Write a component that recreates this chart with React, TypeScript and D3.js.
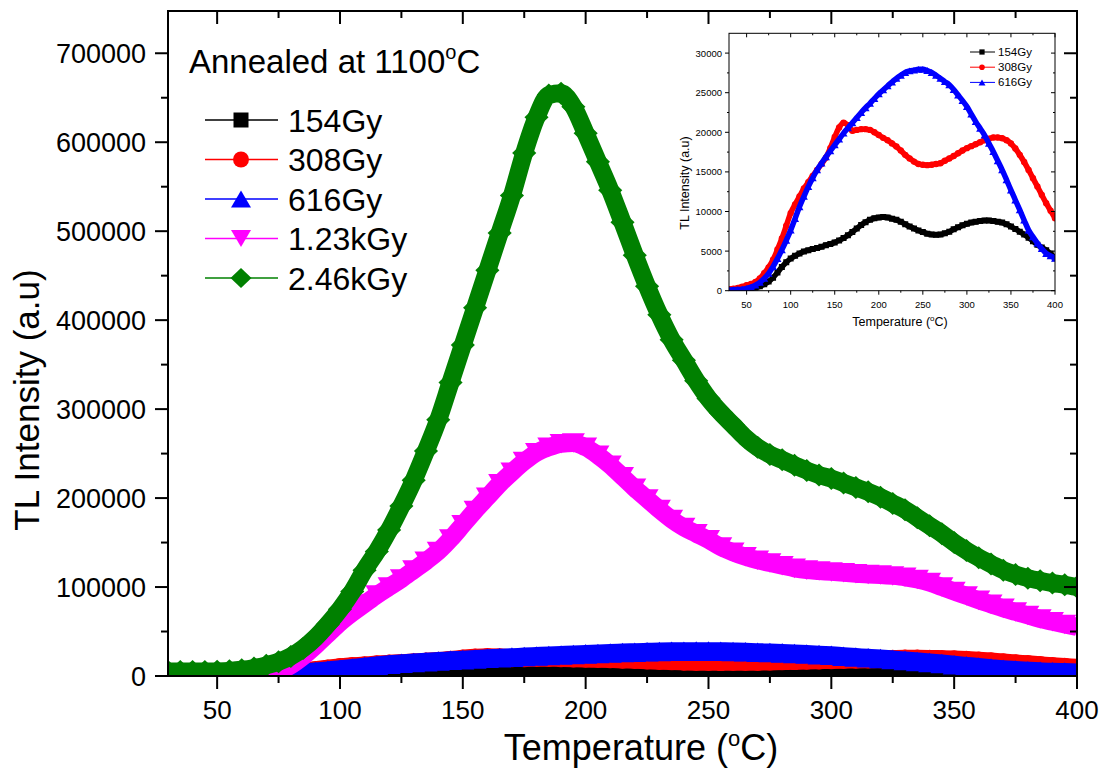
import React from "react";
import * as d3 from "d3";

// ---------- data ----------
const temps = [
  30, 35, 40, 45, 50, 55, 60, 65, 70, 75, 80, 85, 90, 95, 100, 105, 110, 115, 120, 125,
  130, 135, 140, 145, 150, 155, 160, 165, 170, 175, 180, 185, 190, 195, 200, 205, 210, 215, 220, 225,
  230, 235, 240, 245, 250, 255, 260, 265, 270, 275, 280, 285, 290, 295, 300, 305, 310, 315, 320, 325,
  330, 335, 340, 345, 350, 355, 360, 365, 370, 375, 380, 385, 390, 395, 400,
];

const gy154 = [
  100, 120, 150, 180, 220, 280, 380, 550, 800, 1150, 1650, 2300, 3000, 3600, 4050, 4400, 4700, 4950, 5100, 5250,
  5400, 5550, 5750, 5900, 6100, 6350, 6650, 7000, 7400, 7850, 8300, 8650, 8950, 9150, 9250, 9300, 9250, 9100, 8950, 8700,
  8400, 8100, 7850, 7600, 7400, 7200, 7100, 7050, 7100, 7250, 7450, 7750, 8000, 8250, 8450, 8600, 8700, 8800, 8850, 8850,
  8800, 8700, 8600, 8400, 8100, 7800, 7450, 7100, 6700, 6250, 5800, 5450, 5100, 4650, 4100,
];

const gy308 = [
  200, 250, 350, 500, 700, 850, 1100, 1550, 2200, 2950, 3900, 5200, 6600, 8200, 9800, 10900, 11900, 12900, 13700, 14500,
  15250, 16000, 16800, 18000, 19400, 20600, 21200, 20900, 20200, 20300, 20400, 20400, 20300, 20000, 19650, 19300, 19000, 18600, 18200, 17700,
  17150, 16700, 16300, 16000, 15900, 15850, 15900, 16000, 16100, 16400, 16700, 17000, 17350, 17700, 18000, 18250, 18500, 18750, 19000, 19200,
  19350, 19350, 19250, 19000, 18600, 17950, 17150, 16250, 15250, 14200, 13150, 12100, 11050, 10100, 9150,
];

const gy616 = [
  100, 120, 150, 200, 300, 450, 700, 1050, 1550, 2200, 3050, 4050, 5150, 6350, 7650, 9100, 10600, 11900, 13150, 14250,
  15250, 16100, 16900, 17650, 18400, 19150, 19900, 20550, 21200, 21850, 22500, 23100, 23650, 24250, 24850, 25350, 25850, 26350, 26800, 27200,
  27550, 27750, 27850, 27950, 27950, 27800, 27550, 27200, 26800, 26400, 26000, 25400, 24700, 24000, 23250, 22300, 21350, 20500, 19650, 18600,
  17550, 16400, 15250, 14000, 12700, 11450, 10200, 8900, 7650, 6800, 6000, 5300, 4700, 4400, 4100,
];

const kgy123 = [
  0, 0, 0, 0, 0, 200, 500, 1000, 2000, 5000, 12000, 22000, 34000, 47000, 60000, 71000, 81000, 91000, 100000, 109000,
  119000, 129000, 140000, 154000, 170000, 186000, 201000, 216000, 229000, 241000, 251000, 257000, 261000, 262000, 257000, 248000, 237000, 224000, 211000, 199000,
  187000, 176000, 167000, 160000, 153000, 145000, 139000, 134000, 130000, 127000, 124000, 121000, 119000, 118000, 117000, 116000, 115000, 114000, 113500, 112500,
  111000, 108500, 105000, 100000, 95000, 90000, 85000, 80500, 76000, 72000, 68000, 64000, 61000, 58000, 55000,
];

const kgy246 = [
  5000, 5000, 5000, 5000, 5200, 5800, 7000, 9000, 12000, 16000, 22000, 31000, 43000, 58000, 75000, 95000, 119000, 140000, 164000, 191000,
  220000, 253000, 288000, 330000, 372000, 414000, 456000, 498000, 540000, 588000, 628000, 653000, 655000, 640000, 610000, 578000, 546000, 510000, 473000, 438000,
  406000, 378000, 355000, 332000, 312000, 296000, 282000, 268000, 257000, 249000, 243000, 237000, 231000, 226000, 222000, 217000, 212000, 207000, 201000, 194000,
  187000, 178000, 169000, 160000, 150000, 141000, 133000, 126000, 119000, 114000, 110000, 107000, 104500, 102500, 100000,
];

const seriesNames = ["154Gy", "308Gy", "616Gy", "1.23kGy", "2.46kGy"];
const seriesColors = ["#000000", "#ff0000", "#0000ff", "#ff00ff", "#008000"];
const seriesShapes = ["square", "circle", "triangle", "triangleDown", "diamond"];
const seriesValues = [gy154, gy308, gy616, kgy123, kgy246];

const mainXTicks = [50, 100, 150, 200, 250, 300, 350, 400];
const mainXMinor = [75, 125, 175, 225, 275, 325, 375];
const mainYTicks = [0, 100000, 200000, 300000, 400000, 500000, 600000, 700000];
const mainYMinor = [50000, 150000, 250000, 350000, 450000, 550000, 650000];

const insetXTicks = [50, 100, 150, 200, 250, 300, 350, 400];
const insetXMinor = [75, 125, 175, 225, 275, 325, 375];
const insetYTicks = [0, 5000, 10000, 15000, 20000, 25000, 30000];
const insetYMinor = [2500, 7500, 12500, 17500, 22500, 27500];

const FONT = "'Liberation Sans', Arial, Helvetica, sans-serif";

// marker path centered on 0,0
function markerPath(shape: string, s: number): string {
  switch (shape) {
    case "square": {
      const h = s * 0.75 / 2;
      return `M${-h},${-h}H${h}V${h}H${-h}Z`;
    }
    case "circle": {
      const r = s * 0.8 / 2;
      return `M${r},0A${r},${r} 0 1,1 ${-r},0A${r},${r} 0 1,1 ${r},0Z`;
    }
    case "triangle": {
      const w = s / 2, h = s * 0.85 / 2;
      return `M0,${-h}L${w},${h}L${-w},${h}Z`;
    }
    case "triangleDown": {
      const w = s / 2, h = s * 0.85 / 2;
      return `M0,${h}L${w},${-h}L${-w},${-h}Z`;
    }
    default: {
      const w = s * 1.05 / 2, h = s / 2;
      return `M0,${-h}L${w},0L0,${h}L${-w},0Z`;
    }
  }
}

export default function App() {
  const W = 1109, H = 769;
  const M = { l: 168, r: 1077, t: 11, b: 676 };
  const x = d3.scaleLinear().domain([30, 400]).range([M.l, M.r]);
  const y = d3.scaleLinear().domain([0, 747500]).range([M.b, M.t]);

  const I = { l: 729, r: 1055, t: 33.3, b: 290.7 };
  const xi = d3.scaleLinear().domain([30, 400]).range([I.l, I.r]);
  const yi = d3.scaleLinear().domain([0, 32500]).range([I.b, I.t]);

  const lineMain = (vals: number[]) =>
    d3.line<number>().x((_, i) => x(temps[i])).y((d) => y(d)).curve(d3.curveMonotoneX)(vals) || "";
  const lineInset = (vals: number[]) =>
    d3.line<number>().x((_, i) => xi(temps[i])).y((d) => yi(d)).curve(d3.curveMonotoneX)(vals) || "";

  const mainMarkerSize = 23;
  const insetMarkerSize = 8;

  const legendRows = [120, 159.5, 199, 238.5, 278];

  return (
    <svg width={W} height={H} style={{ position: "absolute", left: 0, top: 0, background: "#fff" }} fontFamily={FONT}>
      <defs>
        <clipPath id="mainClip">
          <rect x={M.l} y={M.t} width={M.r - M.l} height={M.b - M.t} />
        </clipPath>
        <clipPath id="insetClip">
          <rect x={I.l} y={I.t} width={I.r - I.l} height={I.b - I.t} />
        </clipPath>
      </defs>
      <rect x={0} y={0} width={W} height={H} fill="#fff" />

      {/* main series */}
      <g clipPath="url(#mainClip)">
        {seriesValues.map((vals, si) => (
          <g key={si}>
            <path d={lineMain(vals)} fill="none" stroke={seriesColors[si]} strokeWidth={mainMarkerSize * 0.78} strokeLinejoin="round" />
            {vals.map((v, i) => (
              <path key={i} d={markerPath(seriesShapes[si], mainMarkerSize)} transform={`translate(${x(temps[i])},${y(v)})`} fill={seriesColors[si]} />
            ))}
          </g>
        ))}
      </g>

      {/* main axes frame */}
      <g stroke="#000" strokeWidth={2} fill="none">
        <rect x={M.l} y={M.t} width={M.r - M.l} height={M.b - M.t} />
        {mainXTicks.map((t) => (
          <g key={"xt" + t}>
            <line x1={x(t)} x2={x(t)} y1={M.b} y2={M.b + 13} />
            <line x1={x(t)} x2={x(t)} y1={M.t} y2={M.t + 13} />
          </g>
        ))}
        {mainXMinor.map((t) => (
          <g key={"xm" + t}>
            <line x1={x(t)} x2={x(t)} y1={M.b} y2={M.b + 7} />
            <line x1={x(t)} x2={x(t)} y1={M.t} y2={M.t + 7} />
          </g>
        ))}
        {mainYTicks.map((t) => (
          <g key={"yt" + t}>
            <line x1={M.l - 13} x2={M.l} y1={y(t)} y2={y(t)} />
            <line x1={M.r - 13} x2={M.r} y1={y(t)} y2={y(t)} />
          </g>
        ))}
        {mainYMinor.map((t) => (
          <g key={"ym" + t}>
            <line x1={M.l - 7} x2={M.l} y1={y(t)} y2={y(t)} />
            <line x1={M.r - 7} x2={M.r} y1={y(t)} y2={y(t)} />
          </g>
        ))}
      </g>
      <g fill="#000">
        {mainXTicks.map((t) => (
          <text key={"xl" + t} x={x(t)} y={719} fontSize={26} textAnchor="middle">{t}</text>
        ))}
        {mainYTicks.map((t) => (
          <text key={"yl" + t} x={146} y={y(t) + 9.5} fontSize={27} textAnchor="end">{t}</text>
        ))}
      </g>
      <text x={641} y={760} fontSize={36} textAnchor="middle">
        Temperature (<tspan fontSize={22} dy={-14}>o</tspan><tspan dy={14}>C)</tspan>
      </text>
      <text transform="translate(39,400) rotate(-90)" fontSize={35} textAnchor="middle">TL Intensity (a.u)</text>

      {/* main legend */}
      <text x={189} y={73} fontSize={33}>
        Annealed at 1100<tspan fontSize={20} dy={-14}>o</tspan><tspan dy={14}>C</tspan>
      </text>
      {seriesNames.map((n, si) => (
        <g key={"lg" + si}>
          <line x1={205} x2={278} y1={legendRows[si]} y2={legendRows[si]} stroke={seriesColors[si]} strokeWidth={1.5} />
          <path d={markerPath(seriesShapes[si], 20)} transform={`translate(241,${legendRows[si]})`} fill={seriesColors[si]} />
          <text x={288} y={legendRows[si] + 11.5} fontSize={32}>{n}</text>
        </g>
      ))}

      {/* inset */}
      <g clipPath="url(#insetClip)">
        {seriesValues.slice(0, 3).map((vals, si) => (
          <g key={"is" + si}>
            <path d={lineInset(vals)} fill="none" stroke={seriesColors[si]} strokeWidth={5.5} strokeLinejoin="round" />
            {vals.map((v, i) => (
              <path key={i} d={markerPath(seriesShapes[si], insetMarkerSize)} transform={`translate(${xi(temps[i])},${yi(v)})`} fill={seriesColors[si]} />
            ))}
          </g>
        ))}
      </g>
      <g stroke="#000" strokeWidth={1} fill="none">
        <rect x={I.l} y={I.t} width={I.r - I.l} height={I.b - I.t} />
        {insetXTicks.map((t) => (
          <g key={"ixt" + t}>
            <line x1={xi(t)} x2={xi(t)} y1={I.b} y2={I.b + 4} />
            <line x1={xi(t)} x2={xi(t)} y1={I.t} y2={I.t + 4} />
          </g>
        ))}
        {insetXMinor.map((t) => (
          <g key={"ixm" + t}>
            <line x1={xi(t)} x2={xi(t)} y1={I.b} y2={I.b + 2} />
            <line x1={xi(t)} x2={xi(t)} y1={I.t} y2={I.t + 2} />
          </g>
        ))}
        {insetYTicks.map((t) => (
          <g key={"iyt" + t}>
            <line x1={I.l - 4} x2={I.l} y1={yi(t)} y2={yi(t)} />
            <line x1={I.r - 4} x2={I.r} y1={yi(t)} y2={yi(t)} />
          </g>
        ))}
        {insetYMinor.map((t) => (
          <g key={"iym" + t}>
            <line x1={I.l - 2} x2={I.l} y1={yi(t)} y2={yi(t)} />
            <line x1={I.r - 2} x2={I.r} y1={yi(t)} y2={yi(t)} />
          </g>
        ))}
      </g>
      <g fontSize={9.5} fill="#000">
        {insetXTicks.map((t) => (
          <text key={"ixl" + t} x={xi(t)} y={308} textAnchor="middle">{t}</text>
        ))}
        {insetYTicks.map((t) => (
          <text key={"iyl" + t} x={722} y={yi(t) + 3.5} textAnchor="end">{t}</text>
        ))}
      </g>
      <text x={900} y={326} fontSize={12.5} textAnchor="middle">
        Temperature (<tspan fontSize={8} dy={-5}>o</tspan><tspan dy={5}>C)</tspan>
      </text>
      <text transform="translate(689,183) rotate(-90)" fontSize={12.5} textAnchor="middle">TL Intensity (a.u)</text>
      {seriesNames.slice(0, 3).map((n, si) => (
        <g key={"ilg" + si}>
          <line x1={970} x2={995} y1={52 + si * 15.2} y2={52 + si * 15.2} stroke={seriesColors[si]} strokeWidth={1} />
          <path d={markerPath(seriesShapes[si], 7)} transform={`translate(982,${52 + si * 15.2})`} fill={seriesColors[si]} />
          <text x={998} y={52 + si * 15.2 + 4} fontSize={11.5}>{n}</text>
        </g>
      ))}
    </svg>
  );
}
